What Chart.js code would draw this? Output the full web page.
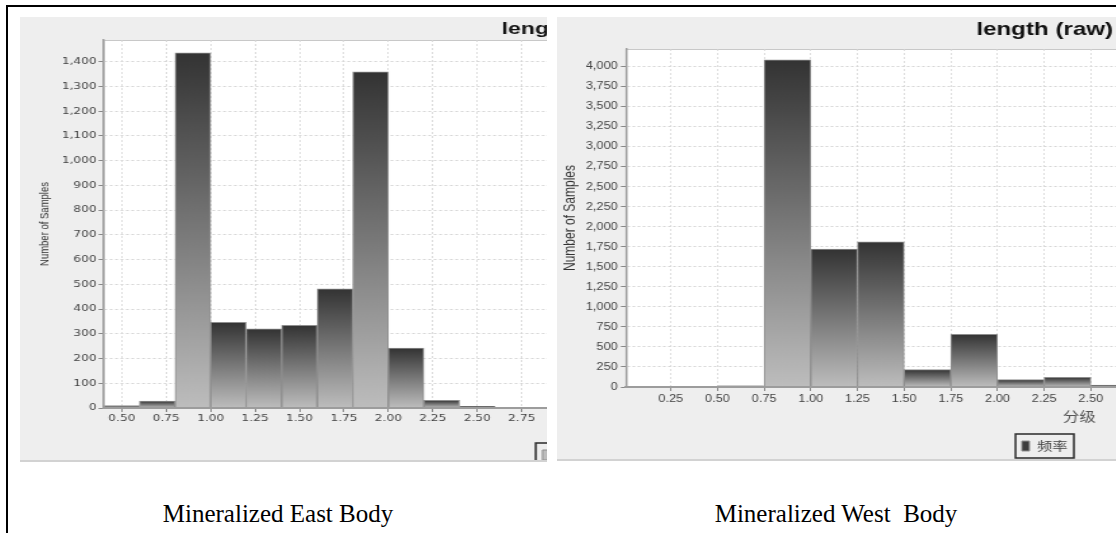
<!DOCTYPE html>
<html>
<head>
<meta charset="utf-8">
<script src="https://cdn.jsdelivr.net/npm/chart.js@4.4.1/dist/chart.umd.min.js"></script>
<style>
  html, body { margin: 0; padding: 0; background: #fff; }
  body { width: 1116px; height: 533px; position: relative; overflow: hidden; }
  .rule { position: absolute; background: #000; }
  .panel { position: absolute; overflow: hidden; background: #eeeeee; border-bottom: 2px solid #d2d2d2; }
  .panel canvas { position: absolute; left: 0; top: 0; transform-origin: 0 0; }
  .caption { position: absolute; width: 400px; text-align: center; white-space: pre;
             font: 25px/30px 'Liberation Serif', 'Times New Roman', serif; color: #000; }
</style>
</head>
<body>
<div class="rule" style="left:6px; top:5px; width:1110px; height:2px;"></div>
<div class="rule" style="left:6px; top:5px; width:2px; height:528px;"></div>

<div class="panel" style="left:20px; top:17px; width:527px; height:443px;">
  <canvas id="eastChart" width="820" height="454" style="transform: scaleX(1.35);"></canvas>
</div>
<div class="panel" style="left:557px; top:17px; width:559px; height:442px;">
  <canvas id="westChart" width="776" height="445" style="transform: scaleX(1.27);"></canvas>
</div>

<div class="caption" style="left:78px; top:499px;">Mineralized East Body</div>
<div class="caption" style="left:636px; top:499px;">Mineralized West  Body</div>

<script>
// length histograms: bin centres and sample counts
const eastBins   = [0.5, 0.7, 0.9, 1.1, 1.3, 1.5, 1.7, 1.9, 2.1, 2.3, 2.5, 2.7];
const eastCounts = [10, 28, 1436, 346, 320, 334, 482, 1359, 242, 31, 7, 1];

const westBins   = [0.125, 0.375, 0.625, 0.875, 1.125, 1.375, 1.625, 1.875, 2.125, 2.375, 2.625];
const westCounts = [3, 4, 16, 4085, 1721, 1812, 217, 659, 92, 121, 25];

// axis tick values
const eastXTicks = [0.5, 0.75, 1.0, 1.25, 1.5, 1.75, 2.0, 2.25, 2.5, 2.75];
const eastYTicks = [0, 100, 200, 300, 400, 500, 600, 700, 800, 900, 1000, 1100, 1200, 1300, 1400];
const westXTicks = [0.25, 0.5, 0.75, 1.0, 1.25, 1.5, 1.75, 2.0, 2.25, 2.5];
const westYTicks = [0, 250, 500, 750, 1000, 1250, 1500, 1750, 2000, 2250, 2500, 2750, 3000, 3250, 3500, 3750, 4000];

const chartTitle  = 'length (raw)';
const yAxisTitle  = 'Number of Samples';
const xAxisTitle  = '分级';
const seriesLabel = '频率';

// each bar shades from dark at its top to light grey at the baseline
function barFill(c) {
  const y = c.chart.scales.y;
  if (c.type !== 'data' || !y) return '#555555';
  const top = y.getPixelForValue(c.parsed.y);
  const base = y.getPixelForValue(0);
  if (!isFinite(top) || !isFinite(base) || base - top < 1) return '#3c3c3c';
  const g = c.chart.ctx.createLinearGradient(0, top, 0, base);
  g.addColorStop(0, '#333333');
  g.addColorStop(1, '#bdbdbd');
  return g;
}

// white plot area with a light outline, and a framed legend
const plotFrame = {
  id: 'plotFrame',
  beforeDraw(chart) {
    const { ctx, chartArea: a } = chart;
    ctx.save();
    ctx.fillStyle = '#ffffff';
    ctx.fillRect(a.left, a.top, a.right - a.left, a.bottom - a.top);
    ctx.strokeStyle = '#c8c8c8';
    ctx.lineWidth = 1;
    ctx.strokeRect(a.left, a.top + 0.5, a.right - a.left, a.bottom - a.top);
    ctx.restore();
  },
  afterDraw(chart) {
    const lg = chart.legend;
    const lab = chart.options.plugins.legend.labels;
    const ctx = chart.ctx;
    ctx.save();
    ctx.font = lab.font.size + 'px ' + lab.font.family;
    const w = lab.boxWidth + lab.font.size / 2 + ctx.measureText(seriesLabel).width;
    const x = (lg.left + lg.right - w) / 2;
    const y = lg.top + lab.padding;
    ctx.strokeStyle = '#2a2a2a';
    ctx.lineWidth = 1.5;
    ctx.strokeRect(x - 5, y - 6, w + 10, lab.font.size + 12);
    ctx.restore();
  }
};

function histogram(id, bins, counts, xTicks, yTicks, o) {
  return new Chart(document.getElementById(id), {
    type: 'bar',
    data: {
      datasets: [{
        label: seriesLabel,
        data: bins.map((x, i) => ({ x: x, y: counts[i] })),
        backgroundColor: barFill,
        borderColor: '#8e8e8e',
        borderWidth: 1,
        barPercentage: 1,
        categoryPercentage: 1
      }]
    },
    plugins: [plotFrame],
    options: {
      responsive: false,
      animation: false,
      layout: { padding: { right: o.padRight } },
      plugins: {
        title: {
          display: true,
          text: chartTitle,
          color: '#111',
          font: { family: "'Liberation Sans', Arial, sans-serif", size: o.titleSize, weight: 'bold' },
          padding: { top: o.titleTop, bottom: o.titleBottom }
        },
        legend: {
          position: 'bottom',
          labels: {
            boxWidth: 6, boxHeight: 10, padding: 10, color: '#444',
            font: { family: "'Noto Sans CJK SC', sans-serif", size: 12 }
          }
        },
        tooltip: { enabled: false }
      },
      scales: {
        x: {
          type: 'linear',
          offset: false,
          min: o.xMin, max: o.xMax,
          afterFit: s => { s.height = o.xHeight; },
          afterBuildTicks: s => { s.ticks = xTicks.map(v => ({ value: v })); },
          grid: { offset: false, color: '#d6d6d6', lineWidth: 0.8, tickLength: 4, tickColor: '#888', tickWidth: 1 },
          border: { color: '#9c9c9c', width: 2, dash: [2, 2], z: 1 },
          ticks: {
            maxRotation: 0, autoSkip: false,
            padding: o.xTickPad, color: '#444',
            font: { family: o.tickFamily, size: o.tickSize },
            callback: v => Number(v).toFixed(2)
          },
          title: {
            display: o.showXTitle, text: xAxisTitle, color: '#555',
            font: { family: "'Noto Sans CJK SC', sans-serif", size: 13 },
            padding: { top: 0, bottom: 6 }
          }
        },
        y: {
          min: 0, max: o.yMax,
          afterFit: s => { s.width = o.yWidth; },
          afterBuildTicks: s => { s.ticks = yTicks.map(v => ({ value: v })); },
          grid: { color: '#d6d6d6', lineWidth: 1, tickLength: 4, tickColor: '#888', tickWidth: 1 },
          border: { color: '#9c9c9c', width: 1.5, dash: [2, 2], z: 1 },
          ticks: {
            autoSkip: false,
            padding: o.yTickPad, color: '#444',
            font: { family: o.tickFamily, size: o.tickSize },
            callback: v => Number(v).toLocaleString('en-US')
          },
          title: {
            display: true, text: yAxisTitle, color: '#333',
            font: { family: o.yTitleFamily, size: o.yTitleSize },
            padding: { top: o.yTitlePad, bottom: 0 }
          }
        }
      }
    }
  });
}

histogram('eastChart', eastBins, eastCounts, eastXTicks, eastYTicks, {
  padRight: 10, titleSize: 17, titleTop: 1.8, titleBottom: 0.8,
  xMin: 0.4, xMax: 6.08, xHeight: 31, xTickPad: 1, showXTitle: false,
  yMax: 1488, yWidth: 62.2, yTickPad: 1.5,
  tickFamily: "'DejaVu Sans', sans-serif", tickSize: 9,
  yTitleFamily: "'Liberation Sans', Arial, sans-serif",
  yTitleSize: 9.5, yTitlePad: 12.3
});

histogram('westChart', westBins, westCounts, westXTicks, westYTicks, {
  padRight: 8, titleSize: 19, titleTop: 1.6, titleBottom: 7.6,
  xMin: 0.01, xMax: 4.865, xHeight: 43, xTickPad: 2, showXTitle: true,
  yMax: 4220, yWidth: 54.3, yTickPad: 2.5,
  tickFamily: "'Liberation Sans', Arial, sans-serif", tickSize: 10,
  yTitleFamily: "'Liberation Sans', Arial, sans-serif",
  yTitleSize: 12, yTitlePad: 3
});
</script>
</body>
</html>
